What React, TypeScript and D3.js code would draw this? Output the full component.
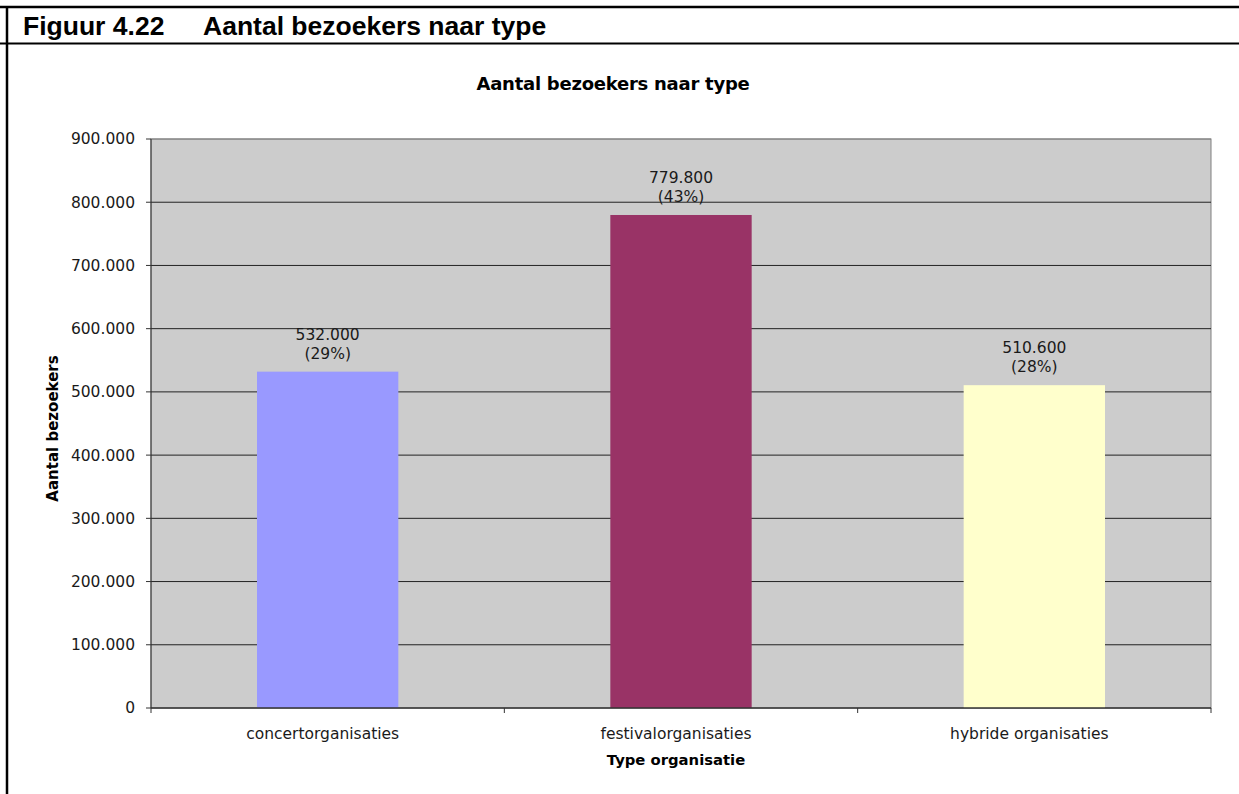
import React from "react";
import * as d3 from "d3";

const categories = ["concertorganisaties", "festivalorganisaties", "hybride organisaties"];
const values = [532000, 779800, 510600];
const percents = ["29%", "43%", "28%"];
const colors = ["#9999FF", "#993366", "#FFFFCC"];
const yTicks = [0, 100000, 200000, 300000, 400000, 500000, 600000, 700000, 800000, 900000];

const W = 1239;
const H = 794;
const plot = { left: 151, right: 1211, top: 139, bottom: 708 };

const fmt = (v: number) => (v === 0 ? "0" : d3.format(",")(v).replace(/,/g, "."));

export default function App() {
  const x = d3
    .scaleBand<string>()
    .domain(categories)
    .range([plot.left, plot.right])
    .paddingInner(0.6)
    .paddingOuter(0.3);
  const y = d3.scaleLinear().domain([0, 900000]).range([plot.bottom, plot.top]);
  const xb = d3.scaleBand<string>().domain(categories).range([plot.left, plot.right]);
  const font = "'DejaVu Sans', Verdana, sans-serif";
  const hfont = "'Liberation Sans', Arial, sans-serif";

  return (
    <svg
      width={W}
      height={H}
      style={{ position: "absolute", left: 0, top: 0, background: "#fff" }}
    >
      {/* frame */}
      <line x1={0} x2={W} y1={7} y2={7} stroke="#000" strokeWidth={2.5} />
      <line x1={0} x2={W} y1={43.5} y2={43.5} stroke="#000" strokeWidth={2} />
      <line x1={7} x2={7} y1={6} y2={H} stroke="#000" strokeWidth={2.5} />
      <text x={23} y={35} fontFamily={hfont} fontWeight="bold" fontSize={26.5} fill="#000">
        Figuur 4.22
      </text>
      <text x={203} y={35} fontFamily={hfont} fontWeight="bold" fontSize={26.5} fill="#000">
        Aantal bezoekers naar type
      </text>

      {/* chart title */}
      <text
        x={613}
        y={90}
        textAnchor="middle"
        fontFamily={font}
        fontWeight="bold"
        fontSize={18}
        letterSpacing={-0.25}
        fill="#000"
      >
        Aantal bezoekers naar type
      </text>

      {/* plot area */}
      <rect
        x={plot.left}
        y={plot.top}
        width={plot.right - plot.left}
        height={plot.bottom - plot.top}
        fill="#CCCCCC"
        stroke="#808080"
        strokeWidth={1}
      />
      {yTicks.slice(1).map((t) => (
        <line
          key={t}
          x1={plot.left}
          x2={plot.right}
          y1={y(t)}
          y2={y(t)}
          stroke={t === 900000 ? "#808080" : "#222"}
          strokeWidth={1}
        />
      ))}

      {/* bars */}
      {categories.map((c, i) => (
        <rect
          key={c}
          x={x(c)}
          y={y(values[i])}
          width={x.bandwidth()}
          height={y(0) - y(values[i])}
          fill={colors[i]}
        />
      ))}

      {/* data labels */}
      {categories.map((c, i) => {
        const cx = (x(c) as number) + x.bandwidth() / 2;
        const top = y(values[i]);
        return (
          <text key={c} textAnchor="middle" fontFamily={font} fontSize={15.5} fill="#1a1a1a">
            <tspan x={cx} y={top - 32}>
              {fmt(values[i])}
            </tspan>
            <tspan x={cx} y={top - 13}>
              ({percents[i]})
            </tspan>
          </text>
        );
      })}

      {/* axes */}
      <line x1={plot.left} x2={plot.left} y1={plot.top} y2={plot.bottom} stroke="#333" strokeWidth={1} />
      <line x1={plot.left} x2={plot.right} y1={plot.bottom} y2={plot.bottom} stroke="#333" strokeWidth={1.5} />
      {yTicks.map((t) => (
        <g key={t}>
          <line x1={plot.left - 5} x2={plot.left} y1={y(t)} y2={y(t)} stroke="#333" />
          <text
            x={135}
            y={y(t)}
            dy="0.35em"
            textAnchor="end"
            fontFamily={font}
            fontSize={15.5}
            fill="#1a1a1a"
          >
            {fmt(t)}
          </text>
        </g>
      ))}
      {[...categories.map((c) => xb(c) as number), plot.right].map((px, i) => (
        <line key={i} x1={px} x2={px} y1={plot.bottom} y2={plot.bottom + 5} stroke="#333" />
      ))}
      {categories.map((c) => (
        <text
          key={c}
          x={(xb(c) as number) + xb.bandwidth() / 2 - 5}
          y={739}
          textAnchor="middle"
          fontFamily={font}
          fontSize={15.5}
          fill="#1a1a1a"
        >
          {c}
        </text>
      ))}

      <text
        x={676}
        y={765}
        textAnchor="middle"
        fontFamily={font}
        fontWeight="bold"
        fontSize={14.8}
        fill="#000"
      >
        Type organisatie
      </text>
      <text
        transform={`translate(58, 428.5) rotate(-90)`}
        textAnchor="middle"
        fontFamily={font}
        fontWeight="bold"
        fontSize={15}
        fill="#000"
      >
        Aantal bezoekers
      </text>
    </svg>
  );
}
